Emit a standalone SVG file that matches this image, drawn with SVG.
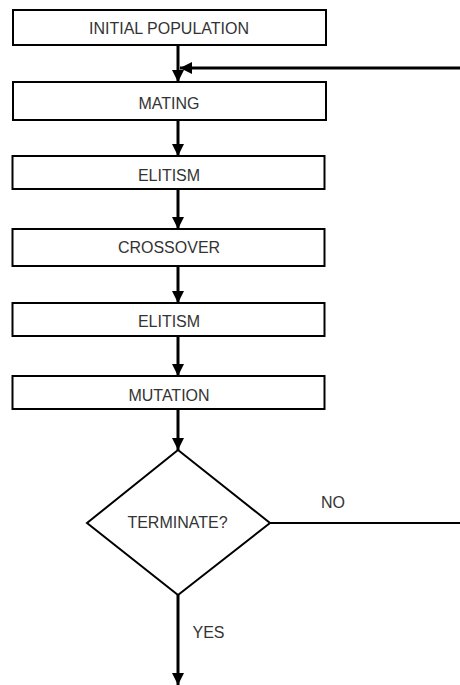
<svg xmlns="http://www.w3.org/2000/svg" width="460" height="685" viewBox="0 0 460 685">
<style>
.box{fill:#fff;stroke:#000;stroke-width:2}
.lbl{font-family:"Liberation Sans",Arial,sans-serif;font-size:16px;fill:#333;text-anchor:middle}
.edge{fill:none;stroke:#000;stroke-width:3}
.thin{fill:none;stroke:#000;stroke-width:2}
</style>
<defs>
<marker id="ah" markerUnits="userSpaceOnUse" markerWidth="14" markerHeight="14" viewBox="0 0 14 14" refX="12" refY="7" orient="auto">
<path d="M0,1 L12,7 L0,13 Z" fill="#000"/>
</marker>
</defs>
<rect width="460" height="685" fill="#fff"/>
<g id="connectors">
<line class="edge" x1="178" y1="45" x2="178" y2="82" marker-end="url(#ah)"/>
<line class="edge" x1="460" y1="68" x2="180" y2="68" marker-end="url(#ah)"/>
<line class="edge" x1="178" y1="120" x2="178" y2="156" marker-end="url(#ah)"/>
<line class="edge" x1="178" y1="189" x2="178" y2="229" marker-end="url(#ah)"/>
<line class="edge" x1="178" y1="266" x2="178" y2="303" marker-end="url(#ah)"/>
<line class="edge" x1="178" y1="336" x2="178" y2="376" marker-end="url(#ah)"/>
<line class="edge" x1="178" y1="409" x2="178" y2="450" marker-end="url(#ah)"/>
<line class="thin" x1="270" y1="523" x2="460" y2="523"/>
<line class="edge" x1="178" y1="595" x2="178" y2="685" marker-end="url(#ah)"/>
<text class="lbl" x="333" y="508">NO</text>
<text class="lbl" x="208.5" y="638">YES</text>
</g>
<g id="initial">
<rect class="box" x="13" y="10" width="313" height="35"/>
<text class="lbl" x="169" y="33.5">INITIAL POPULATION</text>
</g>
<g id="mating">
<rect class="box" x="13" y="82" width="313" height="38"/>
<text class="lbl" x="169" y="108.5">MATING</text>
</g>
<g id="elitism1">
<rect class="box" x="12.5" y="156" width="312" height="33"/>
<text class="lbl" x="169" y="181">ELITISM</text>
</g>
<g id="crossover">
<rect class="box" x="12.5" y="229" width="312" height="37"/>
<text class="lbl" x="169" y="253.3">CROSSOVER</text>
</g>
<g id="elitism2">
<rect class="box" x="12.5" y="303" width="312" height="33"/>
<text class="lbl" x="169" y="327.3">ELITISM</text>
</g>
<g id="mutation">
<rect class="box" x="12.5" y="376" width="312" height="33"/>
<text class="lbl" x="169" y="400.7">MUTATION</text>
</g>
<g id="terminate">
<polygon class="box" points="178,450 270,523 178,595 87,523"/>
<text class="lbl" x="177.5" y="527.7">TERMINATE?</text>
</g>
</svg>
